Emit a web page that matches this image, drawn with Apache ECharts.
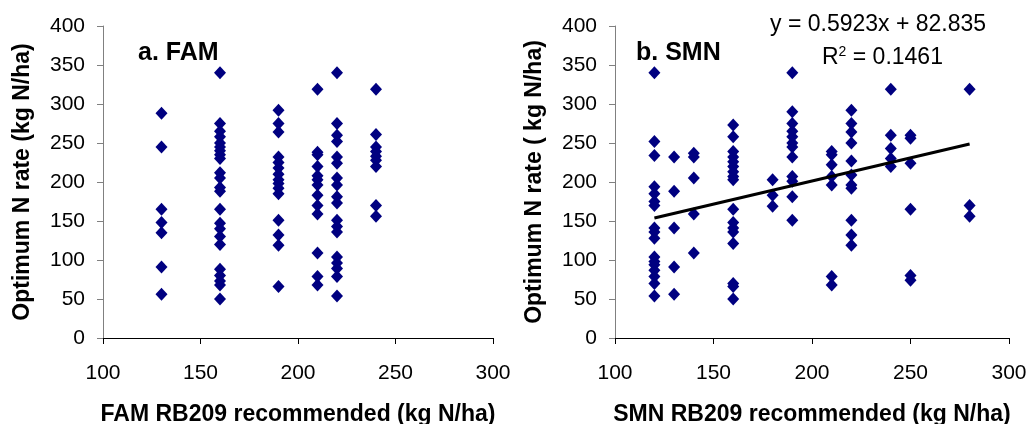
<!DOCTYPE html>
<html>
<head>
<meta charset="utf-8">
<script src="https://cdn.jsdelivr.net/npm/echarts@6/dist/echarts.min.js"></script>
<style>
  html, body { margin: 0; padding: 0; background: #fff; }
  #chart { width: 1030px; height: 424px; }
</style>
</head>
<body>
<div id="chart"></div>
<script>
// FAM panel: recommended rate (x) and the optimum N rates read at that x
const famX = [130, 160, 190, 210, 220, 240];
const famY130 = [288, 245, 165, 148, 135, 91, 56];
const famY160 = [340, 275, 265, 258, 250, 245, 240, 235, 230, 212, 205, 193, 188, 165, 147, 140, 130, 120, 88, 80, 73, 68, 50];
const famY190 = [292, 275, 264, 232, 225, 218, 210, 203, 198, 192, 185, 151, 132, 119, 66];
const famY210 = [319, 238, 235, 220, 208, 203, 196, 183, 170, 159, 109, 79, 68];
const famY220 = [340, 275, 260, 252, 232, 224, 205, 196, 181, 173, 151, 143, 136, 104, 96, 89, 79, 54];
const famY240 = [319, 261, 245, 239, 233, 228, 220, 170, 156];

// SMN panel
const smnX = [120, 130, 140, 160, 180, 190, 210, 220, 240, 250, 280];
const smnY120 = [340, 252, 234, 194, 185, 175, 170, 141, 136, 128, 104, 98, 94, 87, 79, 70, 54];
const smnY130 = [232, 188, 141, 91, 56];
const smnY140 = [237, 232, 205, 159, 109];
const smnY160 = [273, 258, 239, 232, 226, 220, 213, 207, 203, 165, 148, 141, 136, 121, 70, 66, 50];
const smnY180 = [203, 183, 169];
const smnY190 = [340, 290, 275, 265, 258, 250, 245, 232, 207, 201, 181, 151];
const smnY210 = [239, 235, 222, 207, 196, 79, 68];
const smnY220 = [292, 275, 264, 250, 227, 209, 196, 192, 151, 132, 119];
const smnY240 = [319, 260, 243, 230, 220];
const smnY250 = [260, 256, 224, 165, 80, 74];
const smnY280 = [319, 170, 156];

// trend line printed on the SMN panel
const trendSlope = 0.5923;
const trendIntercept = 82.835;
const trendR2 = 0.1461;
const trendRange = [120, 280];

const xTicks = [100, 150, 200, 250, 300];
const yTicks = [0, 50, 100, 150, 200, 250, 300, 350, 400];

const famCols = [famY130, famY160, famY190, famY210, famY220, famY240];
const smnCols = [smnY120, smnY130, smnY140, smnY160, smnY180, smnY190, smnY210, smnY220, smnY240, smnY250, smnY280];

const toPoints = (xs, cols) => {
  let pts = [];
  xs.forEach((x, i) => {
    cols[i].forEach((y) => pts.push([x, y]));
  });
  return pts;
};

const FONT = '"Liberation Sans", Arial, sans-serif';

const xAxisOpt = (gridIndex, name) => ({
  type: 'value',
  gridIndex,
  min: xTicks[0],
  max: xTicks[xTicks.length - 1],
  interval: 50,
  name,
  nameLocation: 'middle',
  nameGap: 65,
  nameTextStyle: { fontFamily: FONT, fontSize: 23, fontWeight: 'bold', color: '#000' },
  axisLine: { show: true, onZero: false, lineStyle: { color: '#000', width: 1 } },
  axisTick: { show: true, length: 6, lineStyle: { color: '#000' } },
  axisLabel: { fontFamily: FONT, fontSize: 21, color: '#000', margin: 25 },
  splitLine: { show: false }
});

const yAxisOpt = (gridIndex, name) => ({
  type: 'value',
  gridIndex,
  min: yTicks[0],
  max: yTicks[yTicks.length - 1],
  interval: 50,
  name,
  nameLocation: 'middle',
  nameGap: 69,
  nameTextStyle: { fontFamily: FONT, fontSize: 23, fontWeight: 'bold', color: '#000' },
  axisLine: { show: true, onZero: false, lineStyle: { color: '#808080', width: 1 } },
  axisTick: { show: true, length: 6, lineStyle: { color: '#808080' } },
  axisLabel: { fontFamily: FONT, fontSize: 21, color: '#000', margin: 18 },
  splitLine: { show: false }
});

const scatterOpt = (idx, data) => ({
  type: 'scatter',
  xAxisIndex: idx,
  yAxisIndex: idx,
  symbol: 'diamond',
  symbolSize: [12, 13],
  itemStyle: { color: '#000080', opacity: 1 },
  data,
  silent: true
});

let chart = echarts.init(document.getElementById('chart'), null, { renderer: 'canvas' });

chart.setOption({
  animation: false,
  backgroundColor: '#fff',
  grid: [
    { left: 103, top: 26, width: 390, height: 312, outerBoundsMode: 'none' },
    { left: 615, top: 26, width: 394, height: 312, outerBoundsMode: 'none' }
  ],
  xAxis: [
    xAxisOpt(0, 'FAM RB209 recommended (kg N/ha)'),
    xAxisOpt(1, 'SMN RB209 recommended (kg N/ha)')
  ],
  yAxis: [
    yAxisOpt(0, 'Optimum N rate (kg N/ha)'),
    yAxisOpt(1, 'Optimum N rate ( kg N/ha)')
  ],
  title: [
    { text: 'a. FAM', left: 138, top: 41, padding: 0, textStyle: { fontFamily: FONT, fontSize: 25, fontWeight: 'bold', color: '#000' } },
    { text: 'b. SMN', left: 636, top: 41, padding: 0, textStyle: { fontFamily: FONT, fontSize: 25, fontWeight: 'bold', color: '#000' } },
    {
      text: 'y = ' + trendSlope + 'x + ' + trendIntercept,
      left: 770, top: 13, padding: 0,
      textStyle: { fontFamily: FONT, fontSize: 23, fontWeight: 'normal', color: '#000' }
    },
    {
      text: '{n|R}{s|2}{n| = ' + trendR2 + '}',
      left: 822, top: 45, padding: 0,
      textStyle: {
        fontWeight: 'normal',
        rich: {
          n: { fontFamily: FONT, fontSize: 23, fontWeight: 'normal', color: '#000', verticalAlign: 'bottom' },
          s: { fontFamily: FONT, fontSize: 14, fontWeight: 'normal', color: '#000', verticalAlign: 'top', padding: [0, 0, 10, 0] }
        }
      }
    }
  ],
  series: [
    scatterOpt(0, toPoints(famX, famCols)),
    scatterOpt(1, toPoints(smnX, smnCols)),
    {
      type: 'line',
      xAxisIndex: 1,
      yAxisIndex: 1,
      data: trendRange.map((x) => [x, trendSlope * x + trendIntercept]),
      symbol: 'none',
      lineStyle: { color: '#000', width: 3 },
      silent: true,
      z: 3
    }
  ]
});
</script>
</body>
</html>
